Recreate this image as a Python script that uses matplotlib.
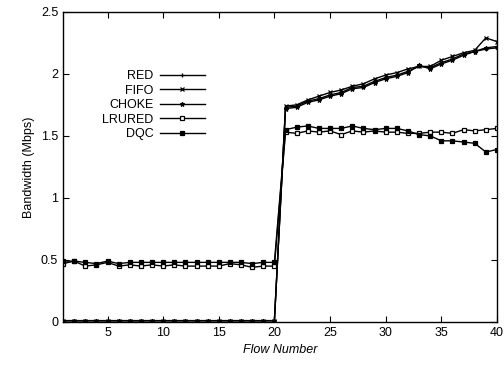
import matplotlib
matplotlib.use("Agg")
import matplotlib.pyplot as plt
import numpy as np

plt.rcParams['font.family'] = ['Liberation Sans', 'DejaVu Sans']

flows = list(range(1, 41))

red_low = [0.01, 0.01, 0.01, 0.01, 0.01, 0.01, 0.01, 0.01, 0.01, 0.01,
           0.01, 0.01, 0.01, 0.01, 0.01, 0.01, 0.01, 0.01, 0.01, 0.01]
red_high = [1.73, 1.74, 1.78, 1.80, 1.83, 1.85, 1.89, 1.90, 1.94, 1.97,
            1.99, 2.02, 2.06, 2.05, 2.09, 2.12, 2.16, 2.18, 2.20, 2.21]
fifo_high = [1.74, 1.75, 1.79, 1.82, 1.85, 1.87, 1.90, 1.92, 1.96, 1.99,
             2.01, 2.04, 2.06, 2.06, 2.11, 2.14, 2.17, 2.19, 2.29, 2.26]
choke_high = [1.72, 1.73, 1.77, 1.79, 1.82, 1.84, 1.88, 1.89, 1.93, 1.96,
              1.98, 2.01, 2.07, 2.04, 2.08, 2.11, 2.15, 2.18, 2.21, 2.22]
lrured_low = [0.47, 0.49, 0.45, 0.46, 0.48, 0.45, 0.46, 0.45, 0.46, 0.45,
              0.46, 0.45, 0.45, 0.45, 0.45, 0.47, 0.46, 0.44, 0.45, 0.45]
lrured_high = [1.53, 1.52, 1.54, 1.53, 1.54, 1.51, 1.54, 1.53, 1.54, 1.53,
               1.53, 1.52, 1.52, 1.53, 1.53, 1.52, 1.55, 1.54, 1.55, 1.56]
dqc_low = [0.49, 0.49, 0.48, 0.47, 0.49, 0.47, 0.48, 0.48, 0.48, 0.48,
           0.48, 0.48, 0.48, 0.48, 0.48, 0.48, 0.48, 0.47, 0.48, 0.48]
dqc_high = [1.55, 1.57, 1.58, 1.56, 1.56, 1.56, 1.58, 1.56, 1.55, 1.56,
            1.56, 1.54, 1.51, 1.50, 1.46, 1.46, 1.45, 1.44, 1.37, 1.39]

red = red_low + red_high
fifo = red_low + fifo_high
choke = red_low + choke_high
lrured = lrured_low + lrured_high
dqc = dqc_low + dqc_high

fig = plt.figure(figsize=(5.04, 3.70), dpi=100)
ax = fig.add_axes([0.125, 0.130, 0.861, 0.838])

kw = dict(color='black', linewidth=1.0, markersize=3.2, markeredgewidth=0.9)
ax.plot(flows, red, marker='+', label='RED', **kw)
ax.plot(flows, fifo, marker='x', label='FIFO', **kw)
ax.plot(flows, choke, marker='*', label='CHOKE', **kw)
ax.plot(flows, lrured, marker='s', markerfacecolor='white', label='LRURED', **kw)
ax.plot(flows, dqc, marker='s', markerfacecolor='black', label='DQC', **kw)

ax.set_xlim(1, 40)
ax.set_ylim(0, 2.5)
ax.set_xticks([5, 10, 15, 20, 25, 30, 35, 40])
ax.set_yticks([0, 0.5, 1, 1.5, 2, 2.5])
ax.set_yticklabels(['0', '0.5', '1', '1.5', '2', '2.5'])
ax.tick_params(direction='in', top=True, right=True, labelsize=9, length=4)
for s in ax.spines.values():
    s.set_linewidth(1.0)

ax.set_xlabel('Flow Number', fontsize=9, style='italic')
ax.set_ylabel('Bandwidth (Mbps)', fontsize=9)

leg = ax.legend(loc='upper left', bbox_to_anchor=(0.07, 0.84), frameon=False,
                markerfirst=False, fontsize=9, handlelength=3.6,
                labelspacing=0.2, borderpad=0.2, handletextpad=0.5)
for t in leg.get_texts():
    t.set_ha('right')
leg._legend_box.align = 'right'

fig.savefig('out.png', dpi=100)
